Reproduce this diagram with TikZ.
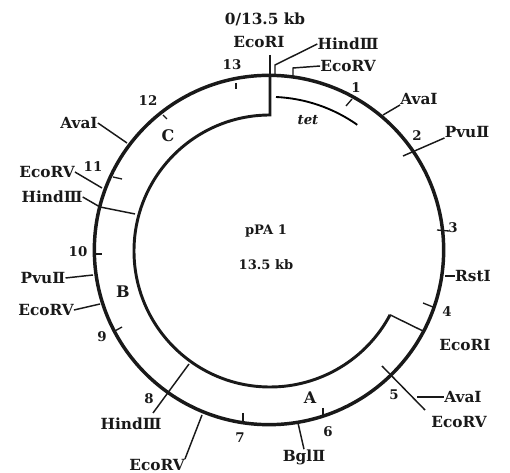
\documentclass[tikz,border=0pt]{standalone}
\usepackage{fontspec}
\setmainfont{DejaVu Serif}
\begin{document}
\begin{tikzpicture}[x=0.75pt,y=-0.75pt,
  lab/.style={font=\bfseries\fontsize{11.5}{12}\selectfont,inner sep=0pt,text=black!90},
  mid/.style={font=\bfseries\fontsize{9.8}{11}\selectfont,inner sep=0pt,text=black!90},
  num/.style={font=\bfseries\fontsize{10}{11}\selectfont,inner sep=0pt,text=black!90},
  reg/.style={font=\bfseries\fontsize{12}{13}\selectfont,inner sep=0pt,text=black!90},
  outerring/.style={line width=2.6pt,draw=black!90},
  innerring/.style={line width=2.2pt,draw=black!90},
  lead/.style={line width=1.1pt,draw=black!90},
  tick/.style={line width=1pt,draw=black!90}]
\useasboundingbox (0,0) rectangle (510,473);
\coordinate (cen) at (269,250);
% rings
\draw[outerring] (cen) circle[radius=131pt];
\coordinate (inS) at (270,115);
\coordinate (topOut) at (270,75);
\draw[innerring] (topOut) -- (inS) arc[start angle=90,end angle=332,radius=102pt] coordinate (inE);
\coordinate (jE) at (425,332);
\draw[lead] (inE) -- (jE);
% tet
\coordinate (tetS) at (276,97);
\draw[line width=1.4pt] (tetS) arc[start angle=87.4,end angle=54.8,radius=114.75pt];
% centre and region labels
\node[mid] (pname) at (266,231) {pPA 1};
\node[mid] (psize) at (266,265) {13.5 kb};
\node[mid,font=\itshape\bfseries\fontsize{10}{11}\selectfont] (tet) at (308,120) {tet};
\node[reg] (regA) at (310,398) {A};
\node[reg] (regB) at (123,292) {B};
\node[reg] (regC) at (168,136) {C};
% scale numbers
\node[num] (n1) at (356,88) {1};
\node[num] (n2) at (417,136) {2};
\node[num] (n3) at (453,228) {3};
\node[num] (n4) at (447,312) {4};
\node[num] (n5) at (394,395) {5};
\node[num] (n6) at (328,432) {6};
\node[num] (n7) at (240,438) {7};
\node[num] (n8) at (149,399) {8};
\node[num] (n9) at (102,337) {9};
\node[num] (n10) at (78,252) {10};
\node[num] (n11) at (93,167) {11};
\node[num] (n12) at (148,101) {12};
\node[num] (n13) at (232,65) {13};
% scale ticks
\draw[tick] (236,83) coordinate (a13) -- (236,89) coordinate (b13);
\draw[tick] (346,106) coordinate (a1) -- (352,99) coordinate (b1);
\draw[tick] (437,230) coordinate (a3) -- (449,231) coordinate (b3);
\draw[tick] (423,303) coordinate (a4) -- (433,307) coordinate (b4);
\draw[tick] (323,408) coordinate (a6) -- (323,417) coordinate (b6);
\draw[tick] (243,413) coordinate (a7) -- (243,422) coordinate (b7);
\draw[tick] (122,327) coordinate (a9) -- (113,332) coordinate (b9);
\draw[tick] (95,254) coordinate (a10) -- (102,254) coordinate (b10);
\draw[tick] (113,177) coordinate (a11) -- (122,179) coordinate (b11);
\draw[tick] (163,115) coordinate (a12) -- (167,119) coordinate (b12);
% site labels
\node[lab] (zero) at (265,19) {0/13.5 kb};
\node[lab] (eco0) at (259,42) {EcoRⅠ};
\node[lab] (hindA) at (348,44) {HindⅢ};
\node[lab] (ecoA) at (348,66) {EcoRV};
\node[lab] (avaA) at (419,99) {AvaⅠ};
\node[lab] (pvuA) at (467,132) {PvuⅡ};
\node[lab] (rst) at (473,276) {RstⅠ};
\node[lab] (ecoB) at (465,345) {EcoRⅠ};
\node[lab] (avaB) at (463,397) {AvaⅠ};
\node[lab] (ecoC) at (459,422) {EcoRV};
\node[lab] (bgl) at (304,457) {BglⅡ};
\node[lab] (ecoD) at (157,465) {EcoRV};
\node[lab] (hindB) at (131,424) {HindⅢ};
\node[lab] (ecoE) at (46,310) {EcoRV};
\node[lab] (pvuB) at (43,278) {PvuⅡ};
\node[lab] (hindC) at (52,197) {HindⅢ};
\node[lab] (ecoF) at (47,172) {EcoRV};
\node[lab] (avaC) at (79,123) {AvaⅠ};
% site leaders
\coordinate (s0) at (270,55);
\draw[lead] (s0) -- (topOut);
\coordinate (h0) at (275,75);
\coordinate (h1) at (275,65);
\draw[lead] (h0) -- (h1) -- (hindA.west);
\coordinate (e0) at (293,77);
\coordinate (e1) at (293,68);
\draw[lead] (e0) -- (e1) -- (ecoA.west);
\coordinate (s1) at (383,115);
\draw[lead] (s1) -- (avaA.south west);
\coordinate (s2) at (403,156);
\draw[lead] (s2) -- (pvuA.south west);
\coordinate (s3) at (445,276);
\draw[lead] (s3) -- (rst.west);
\coordinate (s4) at (382,366);
\coordinate (s5) at (425,410);
\draw[lead] (s4) -- (s5);
\coordinate (s6) at (417,397);
\draw[lead] (s6) -- (avaB.west);
\coordinate (s7) at (298,423);
\draw[lead] (s7) -- (bgl.north);
\coordinate (s8) at (202,415);
\draw[lead] (s8) -- (ecoD.north east);
\coordinate (s9) at (189,364);
\coordinate (s10) at (153,413);
\draw[lead] (s9) -- (s10);
\coordinate (s11) at (100,304);
\draw[lead] (s11) -- (ecoE.east);
\coordinate (s12) at (93,275);
\draw[lead] (s12) -- (pvuB.east);
\coordinate (s13) at (135,214);
\coordinate (s14) at (100,207);
\draw[lead] (s13) -- (s14) -- (hindC.east);
\coordinate (s15) at (102,188);
\draw[lead] (s15) -- (ecoF.east);
\coordinate (s16) at (127,143);
\draw[lead] (s16) -- (avaC.east);
\end{tikzpicture}
\end{document}
